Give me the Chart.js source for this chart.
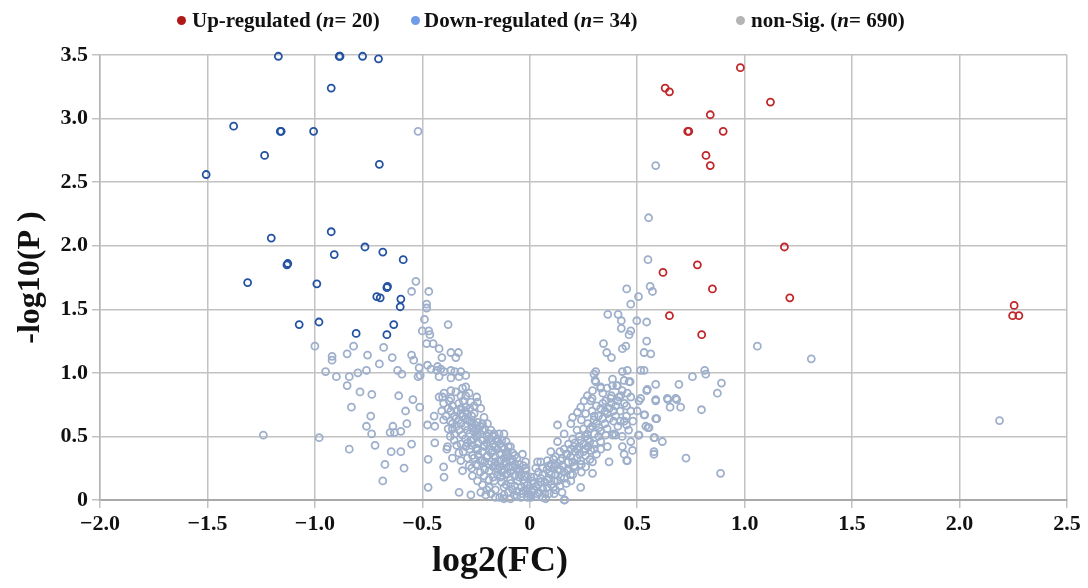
<!DOCTYPE html>
<html>
<head>
<meta charset="utf-8">
<script src="https://cdn.jsdelivr.net/npm/chart.js@4.4.0/dist/chart.umd.min.js"></script>
<style>
  body { margin: 0; background: #fff; }
  #wrap { position: relative; width: 1088px; height: 588px; font-family: 'Liberation Serif', 'Times New Roman', serif; font-weight: bold; color: #111; }
  .item { position: absolute; top: 7px; font-size: 21px; white-space: nowrap; line-height: 26px; }
  .dot { position: absolute; top: 16px; width: 9px; height: 9px; border-radius: 50%; }
  #xTitle { position: absolute; left: 432px; top: 538px; font-size: 36px; line-height: 42px; }
</style>
</head>
<body>
<div id="wrap">
  <canvas id="volcano" width="1088" height="588"></canvas>
  <div id="legend">
    <span class="dot" style="left:177px;background:#b01818"></span>
    <span class="item" style="left:192px">Up-regulated (<i>n</i>= 20)</span>
    <span class="dot" style="left:411px;background:#6f9be8"></span>
    <span class="item" style="left:424px">Down-regulated (<i>n</i>= 34)</span>
    <span class="dot" style="left:736px;background:#b4b4b4"></span>
    <span class="item" style="left:751px">non-Sig. (<i>n</i>= 690)</span>
  </div>
  <div id="xTitle">log2(FC)</div>
</div>
<script>
// axis ticks
const xTicks = [-2.0, -1.5, -1.0, -0.5, 0, 0.5, 1.0, 1.5, 2.0, 2.5];
const yTicks = [0, 0.5, 1.0, 1.5, 2.0, 2.5, 3.0, 3.5];

// [log2(FC), -log10(P)]
const upPoints = [
  [0.98,3.40],[0.63,3.24],[0.65,3.21],[1.12,3.13],[0.84,3.03],[0.735,2.90],[0.74,2.90],[0.90,2.90],
  [0.82,2.71],[0.84,2.63],[1.185,1.99],[0.78,1.85],[0.62,1.79],[0.85,1.66],[1.21,1.59],[0.65,1.45],
  [0.80,1.30],[2.254,1.53],[2.247,1.45],[2.276,1.45]
];

const downPoints = [
  [-1.17,3.49],[-0.887,3.49],[-0.883,3.49],[-0.778,3.49],[-0.704,3.47],[-0.924,3.24],[-1.378,2.94],
  [-1.161,2.90],[-1.157,2.90],[-1.006,2.90],[-1.234,2.71],[-0.70,2.64],[-1.506,2.56],[-1.203,2.06],
  [-0.924,2.11],[-0.767,1.99],[-0.684,1.95],[-0.910,1.93],[-0.589,1.89],[-1.130,1.85],[-1.126,1.86],
  [-1.313,1.71],[-0.991,1.70],[-0.665,1.67],[-0.662,1.68],[-0.712,1.60],[-0.696,1.59],[-0.600,1.58],
  [-0.603,1.52],[-1.073,1.38],[-0.981,1.40],[-0.633,1.38],[-0.808,1.31],[-0.665,1.30]
];

const nonSigPoints = [
  [-0.52,2.90],[-1.24,0.51],[-0.98,0.49],[-1.00,1.21],
  [-0.53,1.72],[-0.55,1.64],[-0.47,1.64],[-0.48,1.54],[-0.48,1.51],[-0.49,1.42],[-0.50,1.33],[-0.47,1.33],
  [-0.48,1.23],[-0.45,1.23],[-0.38,1.38],[-0.465,1.30],
  [-0.82,1.21],[-0.85,1.15],[-0.92,1.13],[-0.92,1.10],[-0.755,1.14],[-0.68,1.20],[-0.70,1.07],[-0.64,1.12],
  [-0.55,1.14],[-0.54,1.10],
  [-0.95,1.01],[-0.90,0.97],[-0.84,0.97],[-0.80,1.00],[-0.76,1.02],[-0.615,1.02],[-0.595,0.99],[-0.52,0.97],
  [-0.51,0.98],[-0.476,1.06],[-0.46,1.03],
  [-0.85,0.90],[-0.79,0.85],[-0.735,0.83],[-0.61,0.82],[-0.83,0.73],[-0.74,0.66],[-0.544,0.79],[-0.512,0.73],
  [-0.578,0.70],[-0.572,0.60],[-0.76,0.58],[-0.736,0.52],[-0.637,0.58],[-0.65,0.53],[-0.63,0.53],[-0.60,0.54],
  [-0.72,0.43],[-0.84,0.40],[-0.645,0.38],[-0.60,0.38],[-0.55,0.44],[-0.445,0.66],[-0.476,0.59],[-0.442,0.58],
  [-0.442,0.45],[-0.674,0.28],[-0.585,0.25],[-0.473,0.32],[-0.684,0.15],[-0.473,0.10],
  [-0.422,1.19],[-0.429,1.05],[-0.422,0.97],[-0.422,0.81],
  [-0.367,1.16],[-0.332,1.16],[-0.344,1.12],[-0.409,1.12],[-0.515,1.04],[-0.433,1.02],[-0.414,1.03],
  [-0.399,1.01],[-0.367,1.02],[-0.349,1.01],[-0.321,1.01],[-0.298,0.98],[-0.329,0.97],[-0.367,0.96],
  [-0.399,0.84],[-0.344,0.85],[-0.313,0.88],[-0.298,0.89],[-0.282,0.84],[-0.321,0.82],[-0.367,0.80],[-0.247,0.81],
  [-0.406,0.81],[-0.401,0.76],[-0.401,0.63],[-0.401,0.26],[-0.399,0.18],[-0.386,0.40],[-0.375,0.78],[-0.367,0.70],
  [-0.360,0.60],[-0.344,0.64],[-0.321,0.68],[-0.298,0.73],[-0.274,0.77],[-0.243,0.77],[-0.228,0.72],[-0.259,0.68],
  [-0.290,0.63],[-0.329,0.55],[-0.313,0.51],[-0.352,0.47],[-0.383,0.42],[-0.290,0.55],[-0.267,0.57],[-0.243,0.61],
  [-0.213,0.65],[-0.197,0.60],[-0.220,0.55],[-0.243,0.51],[-0.274,0.47],[-0.298,0.42],[-0.321,0.31],[-0.313,0.23],
  [-0.282,0.27],[-0.267,0.35],[-0.243,0.39],[-0.213,0.43],[-0.189,0.48],[-0.166,0.52],[-0.143,0.52],[-0.120,0.52],
  [-0.181,0.55],[-0.150,0.46],[-0.127,0.42],[-0.104,0.38],[-0.173,0.39],[-0.197,0.35],[-0.220,0.31],[-0.243,0.27],
  [-0.267,0.19],[-0.243,0.15],[-0.213,0.19],[-0.189,0.23],[-0.158,0.27],[-0.135,0.31],[-0.112,0.30],[-0.080,0.32],
  [-0.080,0.26],[-0.034,0.36],[-0.019,0.23],[-0.050,0.22],[-0.104,0.21],[-0.135,0.18],[-0.166,0.15],[-0.189,0.10],
  [-0.205,0.04],[-0.228,0.06],[-0.120,0.10],[-0.088,0.13],[-0.057,0.15],[-0.026,0.13],[0.012,0.15],[-0.120,0.04],
  [-0.073,0.04],[-0.034,0.05],[0.005,0.04],[0.036,0.05],[0.036,0.30],[-0.329,0.06],[-0.274,0.04],[-0.367,0.86],
  [-0.298,0.82],[-0.259,0.74],
  [-0.36,0.74],[-0.34,0.70],[-0.33,0.76],[-0.31,0.66],[-0.35,0.66],[-0.32,0.60],[-0.30,0.58],[-0.28,0.62],
  [-0.27,0.66],[-0.26,0.60],[-0.25,0.56],[-0.23,0.58],[-0.28,0.52],[-0.26,0.48],[-0.24,0.45],[-0.22,0.47],
  [-0.20,0.50],[-0.21,0.42],[-0.19,0.40],[-0.17,0.44],[-0.15,0.40],[-0.16,0.34],[-0.14,0.36],[-0.12,0.33],
  [-0.10,0.34],[-0.18,0.30],[-0.14,0.26],[-0.12,0.24],[-0.10,0.26],[-0.09,0.22],[-0.07,0.19],[-0.06,0.25],
  [-0.05,0.18],[-0.04,0.10],[-0.03,0.16],[-0.02,0.08],[-0.08,0.08],[-0.10,0.06],[-0.13,0.14],[-0.15,0.20],
  [-0.17,0.18],[-0.19,0.16],[-0.21,0.24],[-0.23,0.22],[-0.16,0.08],[-0.14,0.02],[-0.09,0.01],[-0.06,0.03],
  [-0.01,0.02],[-0.02,0.30],[-0.05,0.28],[-0.07,0.35],[-0.09,0.42],[-0.11,0.46],[-0.30,0.70],[-0.38,0.56],
  [-0.37,0.50],[-0.34,0.43],[-0.33,0.37],[-0.36,0.33],[-0.28,0.40],[-0.26,0.33],[-0.25,0.41],
  [-0.41,0.70],[-0.39,0.66],[-0.38,0.72],[-0.37,0.62],[-0.36,0.56],[-0.35,0.52],[-0.34,0.58],[-0.33,0.63],
  [-0.32,0.72],[-0.31,0.78],[-0.30,0.64],[-0.29,0.68],[-0.28,0.72],[-0.27,0.61],[-0.26,0.54],[-0.25,0.50],
  [-0.24,0.56],[-0.23,0.52],[-0.22,0.60],[-0.21,0.56],[-0.20,0.45],[-0.19,0.52],[-0.18,0.47],[-0.17,0.50],
  [-0.16,0.42],[-0.15,0.48],[-0.14,0.44],[-0.13,0.47],[-0.12,0.40],[-0.11,0.36],[-0.10,0.42],[-0.09,0.30],
  [-0.08,0.37],[-0.07,0.28],[-0.06,0.33],[-0.05,0.24],[-0.04,0.20],[-0.03,0.27],[-0.02,0.19],[-0.01,0.12],
  [-0.24,0.35],[-0.22,0.38],[-0.20,0.34],[-0.18,0.37],[-0.16,0.30],[-0.14,0.31],[-0.12,0.28],[-0.11,0.20],
  [-0.13,0.22],[-0.15,0.24],[-0.17,0.26],[-0.19,0.28],[-0.21,0.30],[-0.23,0.31],[-0.25,0.28],[-0.27,0.25],
  [-0.29,0.33],[-0.31,0.38],[-0.32,0.44],[-0.30,0.48],[-0.29,0.45],[-0.27,0.43],[-0.22,0.12],[-0.20,0.08],
  [-0.18,0.05],[-0.16,0.02],[-0.12,0.01],[-0.11,0.12],[-0.09,0.16],[-0.07,0.11],[-0.06,0.07],[-0.04,0.02],
  [-0.03,0.07],[-0.01,0.05],
  [-0.019,0.25],[0.005,0.18],[0.028,0.25],[0.051,0.30],[0.082,0.31],[0.098,0.38],[0.129,0.46],[0.129,0.59],
  [0.160,0.52],[0.191,0.60],[0.199,0.65],[0.222,0.69],[0.237,0.73],[0.253,0.78],[0.268,0.82],[0.292,0.86],
  [0.307,0.93],[0.330,0.89],[0.353,0.78],[0.361,0.68],[0.322,0.57],[0.299,0.63],[0.268,0.52],[0.237,0.47],
  [0.206,0.42],[0.175,0.36],[0.144,0.31],[0.113,0.26],[0.090,0.21],[0.051,0.17],[0.020,0.13],[-0.011,0.09],
  [0.043,0.06],[0.082,0.10],[0.113,0.15],[0.144,0.18],[0.175,0.23],[0.206,0.27],[0.237,0.31],[0.260,0.35],
  [0.284,0.39],[0.299,0.44],[0.330,0.46],[0.292,0.30],[0.292,0.21],[0.237,0.10],[0.160,0.00],[0.191,0.15],
  [0.113,0.05],[0.074,0.01],[0.005,0.02],[0.361,0.42],[0.353,0.51],[0.369,0.30],[0.385,0.90],[0.408,0.90],
  [0.423,0.82],[0.454,0.84],[0.462,0.93],[0.508,0.78],[0.547,0.87],[0.586,0.78],[0.532,0.67],[0.555,0.57],
  [0.586,0.64],[0.451,0.59],[0.385,0.51],[0.400,0.51],[0.508,0.51],[0.578,0.49],[0.470,0.46],[0.431,0.42],
  [0.439,0.36],[0.478,0.39],[0.454,0.31],[0.578,0.38],[0.284,0.78],
  [0.451,1.66],[0.560,1.68],[0.571,1.64],[0.506,1.60],[0.470,1.54],[0.363,1.46],[0.411,1.46],[0.426,1.41],
  [0.498,1.41],[0.544,1.40],[0.426,1.35],[0.470,1.33],[0.462,1.30],[0.544,1.25],[0.343,1.23],[0.358,1.16],
  [0.380,1.12],[0.431,1.19],[0.447,1.21],[0.532,1.16],[0.563,1.15],[1.059,1.21],[0.307,1.01],[0.304,0.94],
  [0.385,0.95],[0.431,1.01],[0.454,1.02],[0.439,0.94],[0.467,0.93],[0.405,0.90],[0.330,0.88],[0.516,1.02],
  [0.532,1.02],[0.544,0.86],[0.694,0.91],[0.757,0.97],[0.814,1.02],[0.819,0.99],[0.892,0.92],[0.873,0.84],
  [0.640,0.80],[0.679,0.80],[0.516,0.80],
  [0.586,2.63],[0.553,2.22],[0.550,1.89],[1.310,1.11],[2.186,0.625],[0.799,0.71],[0.643,0.79],[0.684,0.79],
  [0.653,0.73],[0.702,0.73],[0.586,0.79],[0.535,0.67],[0.591,0.64],[0.550,0.57],[0.506,0.51],[0.581,0.49],
  [0.617,0.46],[0.578,0.36],[0.727,0.33],[0.888,0.21],[0.451,0.31],[0.392,0.52],[0.299,0.99],[0.470,0.81],
  [0.415,0.81],[0.377,0.80],[0.163,0.00],[0.540,0.58],[0.586,0.91],
  [0.02,0.08],[0.04,0.12],[0.06,0.09],[0.07,0.14],[0.09,0.17],[0.10,0.12],[0.12,0.20],[0.13,0.24],
  [0.15,0.27],[0.16,0.22],[0.18,0.30],[0.19,0.34],[0.21,0.38],[0.22,0.33],[0.23,0.42],[0.25,0.44],
  [0.26,0.40],[0.27,0.48],[0.28,0.56],[0.30,0.52],[0.31,0.60],[0.32,0.66],[0.33,0.72],[0.34,0.76],
  [0.27,0.60],[0.25,0.56],[0.24,0.63],[0.26,0.68],[0.29,0.70],[0.31,0.74],[0.29,0.80],[0.22,0.55],
  [0.20,0.48],[0.18,0.44],[0.16,0.40],[0.14,0.38],[0.12,0.34],[0.10,0.28],[0.08,0.24],[0.06,0.20],
  [0.04,0.22],[0.03,0.03],[0.06,0.02],[0.09,0.05],[0.12,0.08],[0.14,0.11],[0.17,0.13],[0.20,0.20],
  [0.21,0.26],[0.24,0.22],[0.26,0.26],[0.28,0.32],[0.31,0.36],[0.33,0.40],[0.35,0.60],[0.37,0.72],
  [0.34,0.84],[0.36,0.88],[0.38,0.82],[0.40,0.74],[0.42,0.70],[0.44,0.62],[0.41,0.58],[0.39,0.62],
  [0.43,0.50],[0.46,0.55],[0.48,0.62],[0.50,0.70],[0.45,0.74],[0.47,0.70],
  [0.01,0.06],[0.02,0.18],[0.03,0.11],[0.05,0.14],[0.06,0.25],[0.07,0.05],[0.08,0.16],[0.09,0.27],
  [0.10,0.20],[0.11,0.32],[0.11,0.10],[0.12,0.27],[0.13,0.15],[0.14,0.24],[0.15,0.33],[0.15,0.06],
  [0.16,0.17],[0.17,0.36],[0.18,0.24],[0.19,0.40],[0.19,0.20],[0.20,0.30],[0.21,0.45],[0.22,0.40],
  [0.23,0.36],[0.23,0.50],[0.24,0.28],[0.25,0.38],[0.26,0.50],[0.27,0.42],[0.28,0.46],[0.29,0.58],
  [0.30,0.40],[0.30,0.66],[0.32,0.50],[0.33,0.54],[0.34,0.64],[0.35,0.70],[0.36,0.56],[0.37,0.64],
  [0.38,0.76],[0.39,0.70],[0.40,0.66],[0.41,0.78],[0.42,0.62],[0.43,0.86],[0.44,0.76],[0.45,0.66]
];

const toXY = pts => pts.map(p => ({ x: p[0], y: p[1] }));
const serif = "'Liberation Serif', 'Times New Roman', serif";
const tickFont = { family: serif, size: 22, weight: 'bold' };

function fmtTick(v) {
  if (v === 0) return '0';
  return v.toFixed(1).replace('-', '\u2212');
}

new Chart(document.getElementById('volcano'), {
  type: 'scatter',
  data: {
    datasets: [
      {
        label: 'Up-regulated',
        data: toXY(upPoints),
        borderColor: '#c0262a',
        backgroundColor: 'rgba(255,255,255,0)',
        order: 1
      },
      {
        label: 'Down-regulated',
        data: toXY(downPoints),
        borderColor: '#2352a3',
        backgroundColor: 'rgba(255,255,255,0)',
        order: 2
      },
      {
        label: 'non-Sig.',
        data: toXY(nonSigPoints),
        borderColor: '#9eafcb',
        backgroundColor: 'rgba(255,255,255,0)',
        order: 3
      }
    ]
  },
  options: {
    responsive: false,
    animation: false,
    clip: false,
    elements: { point: { radius: 3.5, borderWidth: 1.8, hoverRadius: 3.5 } },
    layout: { padding: { top: 55, right: 21, left: 0, bottom: 0 } },
    scales: {
      x: {
        type: 'linear',
        min: -2.0,
        max: 2.5,
        afterBuildTicks: scale => { scale.ticks = xTicks.map(v => ({ value: v })); },
        afterFit: scale => { scale.height = 88; },
        grid: { color: '#c2c2c2', lineWidth: 1.5, tickLength: 8 },
        border: { color: '#a9a9a9', width: 2 },
        ticks: { color: '#111', font: tickFont, padding: 3, maxRotation: 0, callback: fmtTick }
      },
      y: {
        type: 'linear',
        min: 0,
        max: 3.5,
        afterBuildTicks: scale => { scale.ticks = yTicks.map(v => ({ value: v })); },
        afterFit: scale => { scale.width = 100; },
        grid: { color: '#c2c2c2', lineWidth: 1.5, tickLength: 8 },
        border: { color: '#b5b5b5', width: 1.5 },
        ticks: { color: '#111', font: tickFont, padding: 4, callback: fmtTick },
        title: {
          display: true,
          text: '-log10(P )',
          color: '#111',
          font: { family: serif, size: 32, weight: 'bold' },
          padding: { top: 12, bottom: 0 }
        }
      }
    },
    plugins: {
      legend: { display: false },
      tooltip: { enabled: false }
    }
  }
});
</script>
</body>
</html>
